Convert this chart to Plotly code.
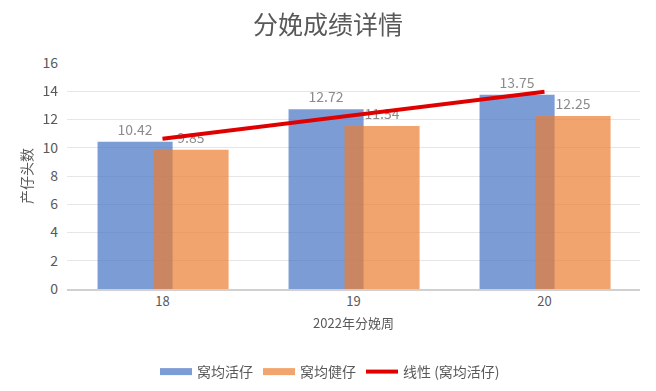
import numpy as np
import plotly.graph_objects as go

weeks = ["18", "19", "20"]
live = [10.42, 12.72, 13.75]
healthy = [9.85, 11.54, 12.25]
y_ticks = [0, 2, 4, 6, 8, 10, 12, 14, 16]

BLUE = "#4472C4"
ORANGE = "#ED7D31"
TXT = "#595959"
FONT = "Noto Sans CJK SC"

xi = np.arange(len(live))
slope, intercept = np.polyfit(xi, live, 1)
trend = (intercept + slope * xi).tolist()

fig = go.Figure()
fig.add_trace(go.Bar(x=weeks, y=live, name="窝均活仔", marker=dict(color=BLUE, line=dict(width=0)),
                     opacity=0.7, width=0.393, offset=-0.34, text=[f"{v:.2f}" for v in live],
                     textposition="outside", textfont=dict(color=TXT, size=14), cliponaxis=False,
                     showlegend=False))
fig.add_trace(go.Bar(x=weeks, y=healthy, name="窝均健仔", marker=dict(color=ORANGE, line=dict(width=0)),
                     opacity=0.7, width=0.393, offset=-0.047, text=[f"{v:.2f}" for v in healthy],
                     textposition="outside", textfont=dict(color=TXT, size=14), cliponaxis=False,
                     showlegend=False))
fig.add_trace(go.Scatter(x=weeks, y=trend, mode="lines", name="线性 (窝均活仔)",
                         line=dict(color="#E00000", width=4), showlegend=False))
# legend entries
fig.add_trace(go.Scatter(x=[None], y=[None], mode="lines", name="窝均活仔",
                         line=dict(color="rgba(68,114,196,0.7)", width=7)))
fig.add_trace(go.Scatter(x=[None], y=[None], mode="lines", name="窝均健仔",
                         line=dict(color="rgba(237,125,49,0.7)", width=7)))
fig.add_trace(go.Scatter(x=[None], y=[None], mode="lines", name="线性 (窝均活仔)",
                         line=dict(color="#E00000", width=4)))

fig.update_layout(
    width=656, height=391,
    margin=dict(l=67, r=16, t=63, b=102, autoexpand=False),
    paper_bgcolor="white", plot_bgcolor="white",
    barmode="overlay",
    font=dict(family=FONT, color=TXT, size=13),
    title=dict(text="分娩成绩详情", x=0.5, xanchor="center", y=1 - 25 / 391, yanchor="middle",
               yref="container", font=dict(size=25, color=TXT, family=FONT)),
    xaxis=dict(type="category", range=[-0.5, 2.5], showgrid=False, showline=True,
               linecolor="#D0D0D0", linewidth=1.5, ticks="", tickfont=dict(size=13, color=TXT),
               title=dict(text="2022年分娩周", font=dict(size=13, color=TXT), standoff=10)),
    yaxis=dict(range=[0, 16], tickvals=y_ticks, showgrid=True, gridcolor="#E6E6E6", gridwidth=1,
               zeroline=False, showline=False, ticks="", tickfont=dict(size=14, color=TXT),
               ticklabelstandoff=8,
               title=dict(text="产仔头数", font=dict(size=14, color=TXT), standoff=6)),
    legend=dict(orientation="h", xref="container", x=330 / 656, xanchor="center",
                yref="container", y=1 - 372 / 391, yanchor="middle",
                font=dict(size=14, color=TXT), itemwidth=32, tracegroupgap=0),
    showlegend=True,
)

fig.write_html("out.html", config={"displayModeBar": False},
               post_script="document.body.style.margin='0';document.body.style.overflow='hidden';")
